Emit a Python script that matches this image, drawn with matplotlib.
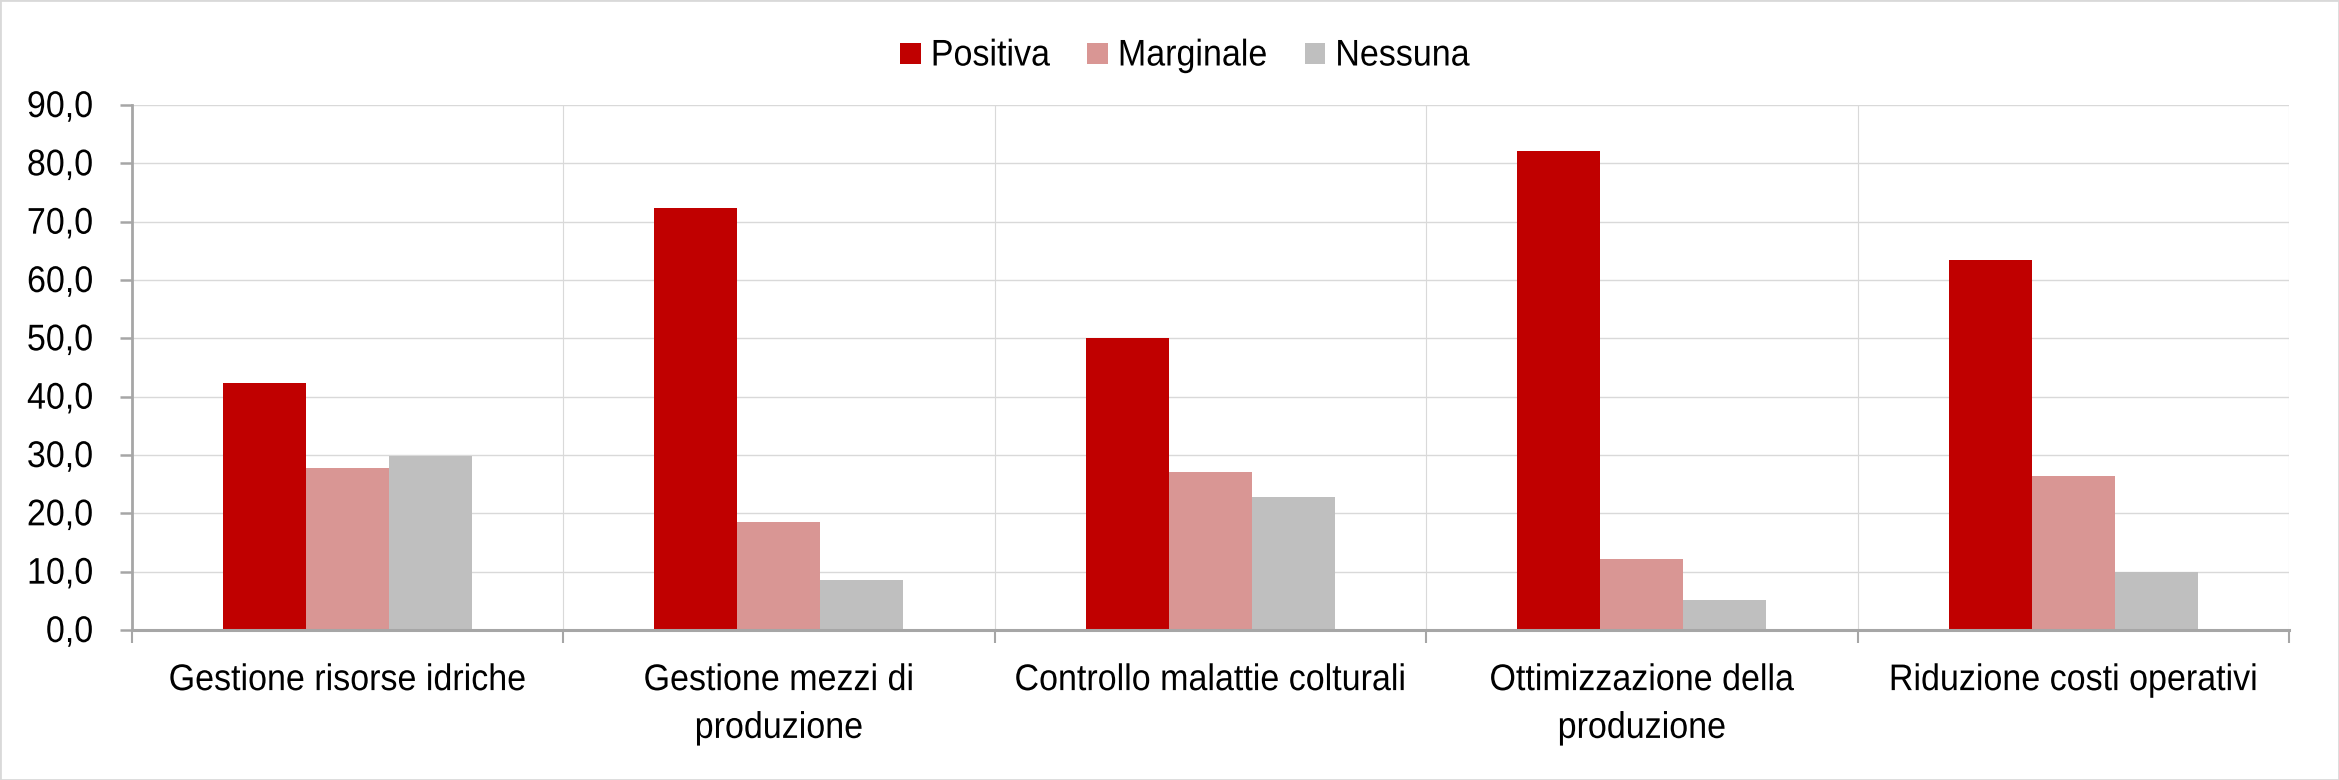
import matplotlib
matplotlib.use("Agg")
import matplotlib.pyplot as plt
import numpy as np
from matplotlib.patches import Rectangle
from matplotlib.ticker import FuncFormatter, FixedLocator
from matplotlib.patheffects import AbstractPathEffect
from matplotlib.transforms import Affine2D

plt.rcParams['font.family'] = ['Liberation Sans', 'DejaVu Sans']
FS = 24.5


class VStretch(AbstractPathEffect):
    """Slightly taller glyphs, like the condensed font of the original."""
    def __init__(self, sy):
        super().__init__()
        self.sy = sy

    def draw_path(self, renderer, gc, tpath, affine, rgbFace=None):
        renderer.draw_path(gc, tpath, Affine2D().scale(1, self.sy) + affine, rgbFace)


categories = ["Gestione risorse idriche", "Gestione mezzi di\nproduzione",
              "Controllo malattie colturali", "Ottimizzazione della\nproduzione",
              "Riduzione costi operativi"]
series_names = ["Positiva", "Marginale", "Nessuna"]
positiva = [42.4, 72.4, 50.0, 82.1, 63.4]
marginale = [27.8, 18.6, 27.1, 12.2, 26.4]
nessuna = [29.9, 8.6, 22.8, 5.1, 9.9]
colors = ["#C00000", "#D99694", "#BFBFBF"]
yticks = [0, 10, 20, 30, 40, 50, 60, 70, 80, 90]

W, H = 2339, 780
fig = plt.figure(figsize=(W / 100, H / 100), dpi=100)
ax = fig.add_axes([131.6 / W, 1 - 630 / H, (2289 - 131.6) / W, (630 - 105) / H])

x = np.arange(len(categories))
bw = 0.1925
for i, (vals, name, c) in enumerate(zip([positiva, marginale, nessuna], series_names, colors)):
    ax.bar(x + (i - 1) * bw, vals, width=bw, color=c, label=name, zorder=3, linewidth=0)

ax.set_xlim(-0.5, len(categories) - 0.5)
ax.set_ylim(0, 90)
ax.set_yticks(yticks)
ax.yaxis.set_major_formatter(FuncFormatter(lambda v, p: f"{v:.1f}".replace(".", ",")))

ax.xaxis.set_major_locator(FixedLocator(np.arange(-0.5, len(categories), 1.0)))
ax.xaxis.set_major_formatter(FuncFormatter(lambda v, p: ""))
ax.set_xticks(x, minor=True)
ax.set_xticklabels(categories, minor=True, fontsize=FS)
stretch = [VStretch(1.09)]
for t in ax.get_xticklabels(minor=True):
    t.set_linespacing(1.7)
    t.set_path_effects(stretch)
ax.tick_params(axis='x', which='minor', length=0, pad=26)
ax.tick_params(axis='x', which='major', length=9.4, width=1.5, color='#A6A6A6', direction='out')
ax.tick_params(axis='y', which='major', length=8.6, width=1.8, color='#A6A6A6', direction='out',
               labelsize=FS, pad=19)
for t in ax.get_yticklabels():
    t.set_path_effects(stretch)

ax.grid(True, axis='y', color='#D9D9D9', linewidth=1.0, zorder=0)
ax.grid(True, axis='x', which='major', color='#D9D9D9', linewidth=0.8, zorder=0)

for s in ['top', 'right']:
    ax.spines[s].set_visible(False)
ax.spines['left'].set_color('#A6A6A6')
ax.spines['left'].set_linewidth(2.0)
ax.spines['bottom'].set_color('#A6A6A6')
ax.spines['bottom'].set_linewidth(2.2)
ax.spines['bottom'].set_zorder(4)

leg = fig.legend(loc='center', bbox_to_anchor=(1185 / W, 1 - 57 / H), ncol=3, frameon=False,
                 fontsize=FS, handlelength=0.6, handleheight=0.6, handletextpad=0.3,
                 columnspacing=1.1, borderpad=0)
for t in leg.get_texts():
    t.set_path_effects(stretch)

fig.patches.append(Rectangle((0, 0), 1, 1, transform=fig.transFigure, fill=False,
                             edgecolor='#D9D9D9', linewidth=2.0))

fig.savefig("out.png", dpi=100, facecolor='white')
